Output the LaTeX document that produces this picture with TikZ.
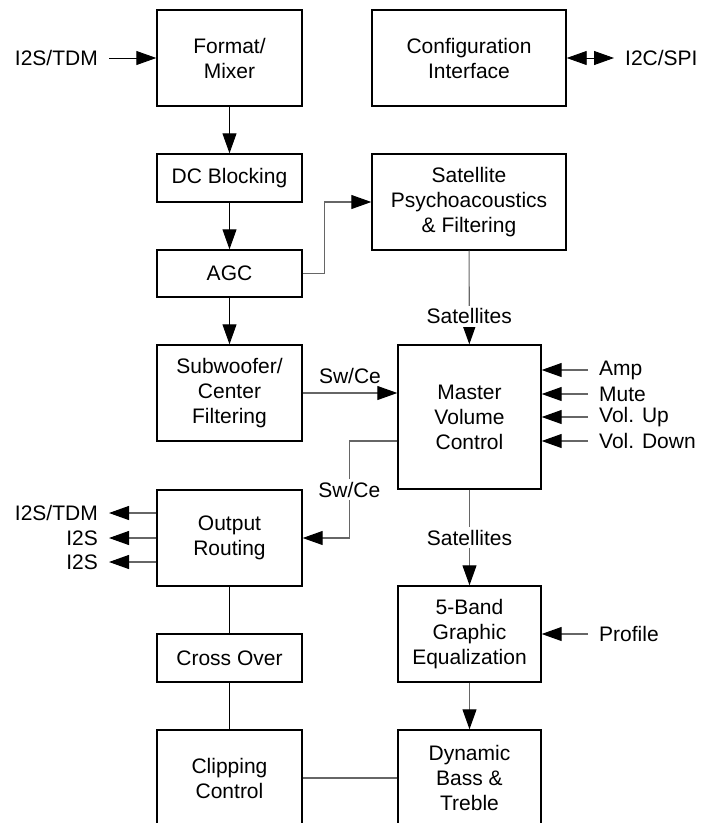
\documentclass[tikz,border=0pt]{standalone}
\usepackage{fontspec}
\setmainfont{Liberation Sans}
\usetikzlibrary{arrows.meta}
\begin{document}
\begin{tikzpicture}[x=1pt, y=-1pt,
    font=\fontsize{21}{25}\selectfont,
    blk/.style={draw, line width=1.4pt, align=center, inner sep=0pt},
    sig/.style={inner xsep=11pt, inner ysep=2pt},
    arr/.style={-{Triangle[length=20pt, width=14pt, color=black]}},
    wire/.style={draw=black!60, line width=1.1pt},
    link/.style={line width=0.9pt}]
    \useasboundingbox (0,0) rectangle (711,823);

    \node[blk, minimum width=145pt, minimum height=96pt] (fmt) at (229.5,58) {Format/\\Mixer};
    \node[blk, minimum width=194pt, minimum height=96pt] (conf) at (469,58) {Configuration\\Interface};
    \node[blk, minimum width=145pt, minimum height=48pt] (dcb) at (229.5,178) {DC Blocking};
    \node[blk, minimum width=145pt, minimum height=47pt] (agc) at (229.5,273.5) {AGC};
    \node[blk, minimum width=194pt, minimum height=96pt] (sat) at (469,202) {Satellite\\Psychoacoustics\\\& Filtering};
    \node[blk, minimum width=145pt, minimum height=96pt] (sub) at (229.5,393) {Subwoofer/\\Center\\Filtering};
    \node[blk, minimum width=143pt, minimum height=144pt] (mvc) at (469.5,417) {Master\\Volume\\Control};
    \node[blk, minimum width=145pt, minimum height=96pt] (out) at (229.5,538) {Output\\Routing};
    \node[blk, minimum width=143pt, minimum height=96pt] (eq) at (469.5,634) {5-Band\\Graphic\\Equalization};
    \node[blk, minimum width=145pt, minimum height=48pt] (xov) at (229.5,658) {Cross Over};
    \node[blk, minimum width=145pt, minimum height=96pt] (clip) at (229.5,778) {Clipping\\Control};
    \node[blk, minimum width=143pt, minimum height=96pt] (dyn) at (469.5,778) {Dynamic\\Bass \&\\Treble};

    % inputs and outputs
    \node[sig, anchor=east] (in1) at (109,58) {I2S/TDM};
    \node[sig, anchor=west] (io) at (614,58) {I2C/SPI};
    \node[sig, anchor=west] (amp) at (588,370) {Amp};
    \node[sig, anchor=west] (mute) at (588,394) {Mute};
    \node[sig, anchor=west] (vup) at (588,417) {Vol. Up};
    \node[sig, anchor=west] (vdn) at (588,441) {Vol. Down};
    \node[sig, anchor=west] (prof) at (588,634) {Profile};
    \node[sig, anchor=east] (o1) at (109,513) {I2S/TDM};
    \node[sig, anchor=east] (o2) at (109,538) {I2S};
    \node[sig, anchor=east] (o3) at (109,562) {I2S};

    \draw[arr, link] (in1.east) -- (fmt.west |- in1.east);
    \draw[{Triangle[length=20pt, width=14pt]}-{Triangle[length=20pt, width=14pt]}, link] (conf.east) -- (io.west);
    \draw[arr, link] (fmt) -- (dcb);
    \draw[arr, link] (dcb) -- (agc);
    \draw[arr, link] (agc) -- (sub);
    \draw[arr, wire] (agc.east) -- ++(22,0) |- (sat.west);
    \draw[arr, wire] (sat) -- node[pos=0.7, fill=white, inner sep=3pt] {Satellites} (mvc);
    \draw[arr, wire] (sub.east) -- node[above=9pt, inner sep=0pt] {Sw/Ce} (mvc.west |- sub.east);
    \draw[arr, wire] ([yshift=-24pt]mvc.west) -- ++(-48,0) |- node[pos=0.25, fill=white, inner sep=3pt] {Sw/Ce} (out.east);
    \draw[arr, wire] (mvc) -- node[fill=white, inner sep=3pt] {Satellites} (eq);
    \draw[arr, wire] (eq) -- (dyn);
    \draw[wire] (dyn) -- (clip);
    \draw[link] (out) -- (xov);
    \draw[link] (xov) -- (clip);

    \foreach \s in {amp, mute, vup, vdn, prof}
        \draw[arr, wire] (\s.west) -- (mvc.east |- \s.west);
    \foreach \s in {o1, o2, o3}
        \draw[arr, wire] (out.west |- \s.east) -- (\s.east);
\end{tikzpicture}
\end{document}
